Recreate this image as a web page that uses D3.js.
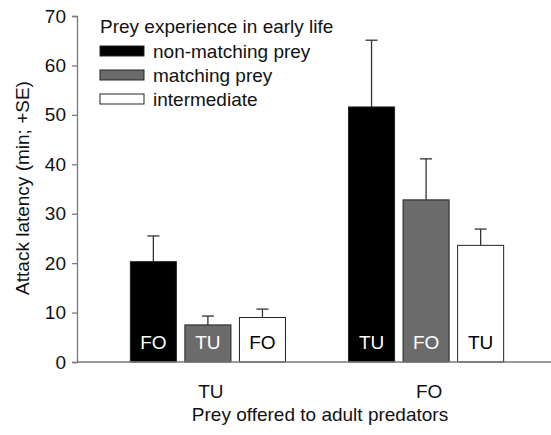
<!DOCTYPE html>
<html>
<head>
<meta charset="utf-8">
<script src="https://cdn.jsdelivr.net/npm/d3@7"></script>
<style>
  body { margin: 0; background: #fff; }
  text { font-family: "Liberation Sans", Arial, sans-serif; }
</style>
</head>
<body>
<script>
// data
var groups = ["TU", "FO"];
var series = ["non-matching prey", "matching prey", "intermediate"];
var means = [[20.3, 7.5, 9.0], [51.6, 32.8, 23.6]];
var errs = [[5.2, 1.8, 1.7], [13.5, 8.3, 3.3]];
var barLabels = [["FO", "TU", "FO"], ["TU", "FO", "TU"]];
var yTicks = [0, 10, 20, 30, 40, 50, 60, 70];

var fills = ["#000000", "#6b6b6b", "#ffffff"];
var labelFill = ["#ffffff", "#ffffff", "#000000"];

var W = 551, H = 435, fs = 19;
var svg = d3.select("body").append("svg")
    .attr("width", W)
    .attr("height", H);

var y = d3.scaleLinear().domain([0, 70]).range([362, 16]);
var x0 = d3.scaleBand().domain(groups).range([77, 557]).paddingInner(0).paddingOuter(0.1);
var x1 = d3.scaleBand().domain(d3.range(series.length)).range([0, x0.bandwidth()])
    .paddingInner(0.156).paddingOuter(0.578);

var axisCol = "#7a7a7a";

// y axis
var yAxis = svg.append("g")
    .attr("transform", "translate(77,0)")
    .call(d3.axisLeft(y).tickValues(yTicks).tickSize(5).tickPadding(6));
yAxis.select(".domain").attr("stroke", axisCol).attr("stroke-width", 1.3);
yAxis.selectAll(".tick line").attr("stroke", axisCol).attr("stroke-width", 1.3);
yAxis.selectAll(".tick text").attr("font-size", fs).attr("fill", "#111")
    .style("font-family", "'Liberation Sans', Arial, sans-serif");

// bars
var g = svg.selectAll(".grp")
    .data(groups)
    .enter().append("g")
    .attr("class", "grp")
    .attr("transform", d => "translate(" + x0(d) + ",0)");

g.each(function(grp, gi) {
  var sel = d3.select(this);
  var rows = series.map((s, i) => ({ i: i, v: means[gi][i], e: errs[gi][i], lab: barLabels[gi][i] }));

  // error bars (behind bars)
  sel.selectAll(".err").data(rows).enter().append("line")
    .attr("x1", d => x1(d.i) + x1.bandwidth() / 2)
    .attr("x2", d => x1(d.i) + x1.bandwidth() / 2)
    .attr("y1", d => y(d.v))
    .attr("y2", d => y(d.v + d.e))
    .attr("stroke", "#333").attr("stroke-width", 1.3);
  sel.selectAll(".cap").data(rows).enter().append("line")
    .attr("x1", d => x1(d.i) + x1.bandwidth() / 2 - 6)
    .attr("x2", d => x1(d.i) + x1.bandwidth() / 2 + 6)
    .attr("y1", d => y(d.v + d.e))
    .attr("y2", d => y(d.v + d.e))
    .attr("stroke", "#333").attr("stroke-width", 1.3);

  sel.selectAll(".bar").data(rows).enter().append("rect")
    .attr("x", d => x1(d.i))
    .attr("y", d => y(d.v))
    .attr("width", x1.bandwidth())
    .attr("height", d => y(0) - y(d.v))
    .attr("fill", d => fills[d.i])
    .attr("stroke", "#222").attr("stroke-width", 1);

  sel.selectAll(".blab").data(rows).enter().append("text")
    .attr("x", d => x1(d.i) + x1.bandwidth() / 2)
    .attr("y", 349)
    .attr("text-anchor", "middle")
    .attr("font-size", fs)
    .attr("fill", d => labelFill[d.i])
    .text(d => d.lab);
});

// x axis line
svg.append("line")
  .attr("x1", 77).attr("x2", W)
  .attr("y1", y(0)).attr("y2", y(0))
  .attr("stroke", axisCol).attr("stroke-width", 1.3);

// x tick labels
svg.selectAll(".xlab").data(groups).enter().append("text")
  .attr("x", d => x0(d) + x0.bandwidth() / 2 + 3)
  .attr("y", 398)
  .attr("text-anchor", "middle")
  .attr("font-size", fs)
  .attr("fill", "#111")
  .text(d => d);

// axis titles
svg.append("text")
  .attr("x", 320).attr("y", 421)
  .attr("text-anchor", "middle")
  .attr("font-size", fs)
  .attr("fill", "#111")
  .text("Prey offered to adult predators");

svg.append("text")
  .attr("transform", "translate(29,188) rotate(-90)")
  .attr("text-anchor", "middle")
  .attr("font-size", fs)
  .attr("fill", "#111")
  .text("Attack latency (min; +SE)");

// legend
var leg = svg.append("g");
leg.append("text")
  .attr("x", 100).attr("y", 33)
  .attr("font-size", fs)
  .attr("fill", "#111")
  .text("Prey experience in early life");
var items = leg.selectAll(".li").data(series).enter().append("g")
  .attr("transform", (d, i) => "translate(100," + (46 + i * 24) + ")");
items.append("rect")
  .attr("width", 44).attr("height", 10)
  .attr("fill", (d, i) => fills[i])
  .attr("stroke", "#222").attr("stroke-width", 1);
items.append("text")
  .attr("x", 53).attr("y", 12)
  .attr("font-size", fs)
  .attr("fill", "#111")
  .text(d => d);
</script>
</body>
</html>
